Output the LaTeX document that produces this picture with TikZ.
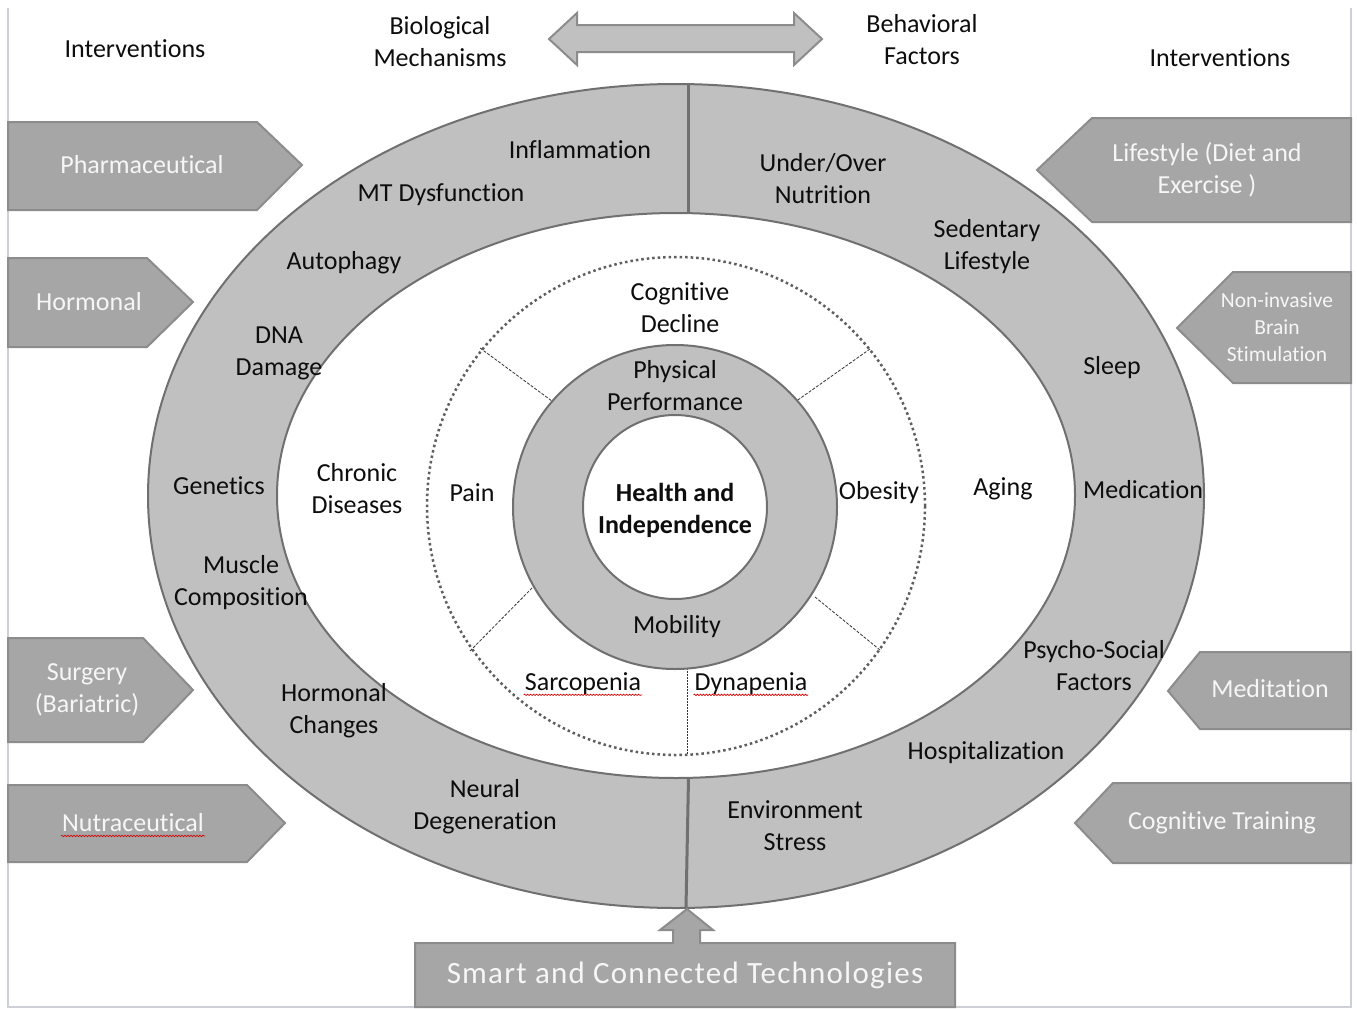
\documentclass[tikz,border=0pt]{standalone}
\usepackage{fontspec}
\setmainfont{Carlito}[Ligatures=NoCommon]
\newfontfamily\widefont{Carlito}[LetterSpace=4, Ligatures=NoCommon]
\usetikzlibrary{decorations.pathmorphing}

\definecolor{bandgray}{HTML}{C0C0C0}
\definecolor{edgegray}{HTML}{707070}
\definecolor{dotgray}{HTML}{5E5E5E}
\definecolor{tabgray}{HTML}{A6A6A6}
\definecolor{tabedge}{HTML}{8C8C8C}
\definecolor{tabtext}{HTML}{F6F6F6}
\definecolor{framegray}{HTML}{CDD0D6}
\definecolor{ink}{HTML}{0D0D0D}

\tikzset{
  lbl/.style={font=\fontsize{26}{32}\selectfont, text=ink, align=center, inner sep=1pt},
  tablbl/.style={lbl, text=tabtext},
  smalltab/.style={tablbl, font=\fontsize{21.5}{27}\selectfont},
  tab/.style={fill=tabgray, draw=tabedge, line width=2pt, line join=miter},
  squiggle/.style={draw=red!85!black, line width=0.7pt, decorate,
    decoration={snake, amplitude=0.7pt, segment length=3pt}},
  spoke/.style={draw=black!80, line width=0.8pt, dash pattern=on 3pt off 1.5pt},
  divider/.style={draw=edgegray, line width=3pt},
}

\begin{document}
\begin{tikzpicture}[x=1pt,y=-1pt]
\useasboundingbox (0,0) rectangle (1357,1009);
\fill[white] (0,0) rectangle (1357,1009);

% page frame
\draw[framegray, line width=1.5pt] (8,8) -- (8,1007) -- (1351,1007) -- (1351,8);

% outer band of mechanisms and factors
\draw[fill=bandgray, draw=edgegray, line width=2pt] (676,496) ellipse [x radius=528pt, y radius=412pt];
\draw[fill=white, draw=edgegray, line width=2pt] (676,495.5) ellipse [x radius=399pt, y radius=282.5pt];
\draw[divider] (688,84) -- (688,213);
\draw[divider] (688.5,778) -- (686,908);

% dotted circle of conditions and its spokes
\draw[dotgray, line width=2.5pt, dash pattern=on 2.5pt off 3pt] (676,506) circle [radius=249pt];
\draw[spoke] (480,348) -- (556,404);
\draw[spoke] (870,349) -- (795,402);
\draw[spoke] (470,651) -- (535,585);
\draw[spoke] (880,650) -- (815,597);
\draw[draw=black!80, line width=0.8pt, dash pattern=on 1.5pt off 1.5pt] (687,668) -- (687,755);

% central ring
\draw[fill=bandgray, draw=edgegray, line width=2pt] (675,507) circle [radius=162pt];
\draw[fill=white, draw=edgegray, line width=2pt] (675,507) circle [radius=92pt];

% two-way arrow between the halves
\draw[fill=bandgray, draw=tabedge, line width=2pt, line join=miter]
  (549,39) -- (577,13) -- (577,25) -- (794,25) -- (794,13) -- (822,39)
  -- (794,65) -- (794,52) -- (577,52) -- (577,65) -- cycle;

% intervention tabs, left side
\draw[tab] (8,122) -- (257,122) -- (302,165) -- (257,210) -- (8,210) -- cycle;
\draw[tab] (8,258) -- (147,258) -- (193,302) -- (147,347) -- (8,347) -- cycle;
\draw[tab] (8,638) -- (143,638) -- (193,690) -- (143,742) -- (8,742) -- cycle;
\draw[tab] (8,785) -- (247,785) -- (285,823) -- (247,862) -- (8,862) -- cycle;

% intervention tabs, right side
\draw[tab] (1351,118) -- (1092,118) -- (1037,170) -- (1092,222) -- (1351,222) -- cycle;
\draw[tab] (1351,272) -- (1233,272) -- (1177,328) -- (1233,383) -- (1351,383) -- cycle;
\draw[tab] (1351,652) -- (1200,652) -- (1168,691) -- (1200,729) -- (1351,729) -- cycle;
\draw[tab] (1351,783) -- (1113,783) -- (1075,823) -- (1113,863) -- (1351,863) -- cycle;

% technology box with its upward arrow
\draw[tab] (415,943) -- (673,943) -- (673,930) -- (660,930) -- (687,909) -- (713,930)
  -- (700,930) -- (700,943) -- (955,943) -- (955,1007) -- (415,1007) -- cycle;

% headings
\node[lbl] (intL) at (135,49) {Interventions};
\node[lbl] (bio) at (440,42) {Biological\\Mechanisms};
\node[lbl] (beh) at (922,40) {Behavioral\\Factors};
\node[lbl] (intR) at (1220,58) {Interventions};

% tab labels
\node[tablbl] (pharma) at (142,165) {Pharmaceutical};
\node[tablbl] (hormo) at (89,302) {Hormonal};
\node[tablbl] (surg) at (87,690) {Surgery\\(Bariatric)};
\node[tablbl] (nutra) at (133,823) {Nutraceutical};
\node[tablbl] (life) at (1207,170) {Lifestyle (Diet and\\Exercise )};
\node[smalltab] (brain) at (1277,327) {Non-invasive\\Brain\\Stimulation};
\node[tablbl] (medit) at (1270,689) {Meditation};
\node[tablbl] (cogtr) at (1222,823) {Cognitive Training};
\node[tablbl, font=\widefont\fontsize{31}{36}\selectfont] (smart) at (685,975) {Smart and Connected Technologies};

% biological mechanisms
\node[lbl] (infl) at (580,150) {Inflammation};
\node[lbl] (mtd) at (441,195) {MT Dysfunction};
\node[lbl] (auto) at (344,263) {Autophagy};
\node[lbl] (dna) at (279,353) {DNA\\Damage};
\node[lbl] (gen) at (219,486) {Genetics};
\node[lbl] (musc) at (241,583) {Muscle\\Composition};
\node[lbl] (hchg) at (334,711) {Hormonal\\Changes};
\node[lbl] (neur) at (485,807) {Neural\\Degeneration};

% behavioral factors
\node[lbl] (nutr) at (823,179) {Under/Over\\Nutrition};
\node[lbl] (sed) at (987,247) {Sedentary\\Lifestyle};
\node[lbl] (sleep) at (1112,368) {Sleep};
\node[lbl] (med) at (1143,490) {Medication};
\node[lbl] (psy) at (1094,666) {Psycho-Social\\Factors};
\node[lbl] (hosp) at (986,753) {Hospitalization};
\node[lbl] (env) at (795,826) {Environment\\Stress};

% conditions
\node[lbl] (chron) at (357,489) {Chronic\\Diseases};
\node[lbl] (aging) at (1003,489) {Aging};
\node[lbl] (cogd) at (680,308) {Cognitive\\Decline};
\node[lbl] (pain) at (472,493) {Pain};
\node[lbl] (obes) at (879,493) {Obesity};
\node[lbl] (sarc) at (583,684) {Sarcopenia};
\node[lbl] (dyna) at (751,684) {Dynapenia};

% central ring
\node[lbl] (phys) at (675,386) {Physical\\Performance};
\node[lbl] (mob) at (677,627) {Mobility};
\node[lbl, font=\bfseries\fontsize{26}{32}\selectfont] (hi) at (675,510) {Health and\\Independence};

% spelling underlines
\draw[squiggle] ([yshift=-4pt]nutra.base west) -- ([yshift=-4pt]nutra.base east);
\draw[squiggle] ([yshift=-4pt]sarc.base west) -- ([yshift=-4pt]sarc.base east);
\draw[squiggle] ([yshift=-4pt]dyna.base west) -- ([yshift=-4pt]dyna.base east);
\end{tikzpicture}
\end{document}
